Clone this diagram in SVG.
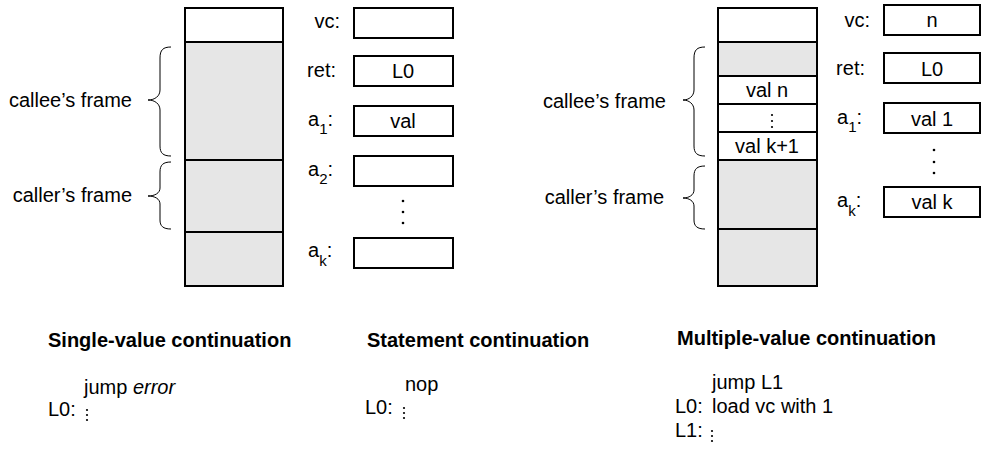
<svg xmlns="http://www.w3.org/2000/svg" width="982" height="449" viewBox="0 0 982 449">
<style>
text { font-family: "Liberation Sans", Arial, sans-serif; font-size: 20px; fill: #000; }
.b { font-weight: bold; }
.c { text-anchor: middle; }
.e { text-anchor: end; }
.sub { font-size: 15px; }
.cell { stroke: #000; stroke-width: 2; }
.g { fill: #e6e6e6; }
.w { fill: #fff; }
.box { fill: #fff; stroke: #000; stroke-width: 2; }
.brace { fill: none; stroke: #000; stroke-width: 1; }
.dot { fill: #000; }
</style>
<rect width="982" height="449" fill="#fff"/>

<!-- Left diagram: stack -->
<g id="left-stack">
  <rect class="cell w" x="185" y="8" width="98" height="34"/>
  <rect class="cell g" x="185" y="42" width="98" height="118"/>
  <rect class="cell g" x="185" y="160" width="98" height="72"/>
  <rect class="cell g" x="185" y="232" width="98" height="54"/>
</g>
<g id="left-braces">
  <path class="brace" d="M171,47 C163,47 160,50 160,58 L160,90 C160,96 155,100 148,100 C155,100 160,104 160,110 L160,146 C160,153 163,156 171,156"/>
  <path class="brace" d="M171,162 C163,162 160,165 160,172 L160,188 C160,193 155,196 148,196 C155,196 160,199 160,204 L160,220 C160,226 163,229 171,229"/>
  <text class="e" x="132" y="107">callee’s frame</text>
  <text class="e" x="132" y="202">caller’s frame</text>
</g>
<g id="left-registers">
  <text class="e" x="340" y="28">vc:</text>
  <rect class="box" x="354" y="8" width="99" height="30"/>
  <text class="e" x="336" y="77">ret:</text>
  <rect class="box" x="354" y="56" width="99" height="30"/>
  <text class="c" x="403" y="78">L0</text>
  <text x="308" y="126">a<tspan class="sub" dy="8">1</tspan><tspan dy="-8">:</tspan></text>
  <rect class="box" x="354" y="106" width="99" height="30"/>
  <text class="c" x="403" y="128">val</text>
  <text x="308" y="176">a<tspan class="sub" dy="8">2</tspan><tspan dy="-8">:</tspan></text>
  <rect class="box" x="354" y="156" width="99" height="30"/>
  <circle class="dot" cx="403" cy="201" r="1.3"/>
  <circle class="dot" cx="403" cy="212" r="1.3"/>
  <circle class="dot" cx="403" cy="223" r="1.3"/>
  <text x="308" y="257">a<tspan class="sub" dy="9">k</tspan><tspan dy="-9">:</tspan></text>
  <rect class="box" x="354" y="238" width="99" height="30"/>
</g>

<!-- Right diagram: stack -->
<g id="right-stack">
  <rect class="cell w" x="718" y="8" width="99" height="34"/>
  <rect class="cell g" x="718" y="42" width="99" height="34"/>
  <rect class="cell w" x="718" y="76" width="99" height="28"/>
  <text class="c" x="767" y="97">val n</text>
  <rect class="cell w" x="718" y="104" width="99" height="28"/>
  <circle class="dot" cx="772" cy="115" r="1.1"/>
  <circle class="dot" cx="772" cy="121" r="1.1"/>
  <circle class="dot" cx="772" cy="127" r="1.1"/>
  <rect class="cell w" x="718" y="132" width="99" height="28"/>
  <text class="c" x="767" y="153">val k+1</text>
  <rect class="cell g" x="718" y="160" width="99" height="69"/>
  <rect class="cell g" x="718" y="229" width="99" height="57"/>
</g>
<g id="right-braces">
  <path class="brace" d="M705,47 C697,47 694,50 694,58 L694,90 C694,96 689,100 683,100 C689,100 694,104 694,110 L694,146 C694,153 697,156 705,156"/>
  <path class="brace" d="M705,166 C697,166 694,169 694,176 L694,190 C694,195 689,198 683,198 C689,198 694,201 694,206 L694,220 C694,226 697,229 705,229"/>
  <text class="e" x="666" y="108">callee’s frame</text>
  <text class="e" x="664" y="204">caller’s frame</text>
</g>
<g id="right-registers">
  <text class="e" x="870" y="27">vc:</text>
  <rect class="box" x="884" y="5" width="96" height="30"/>
  <text class="c" x="932" y="27">n</text>
  <text class="e" x="865" y="75">ret:</text>
  <rect class="box" x="884" y="53" width="96" height="30"/>
  <text class="c" x="932" y="76">L0</text>
  <text x="837" y="124">a<tspan class="sub" dy="8">1</tspan><tspan dy="-8">:</tspan></text>
  <rect class="box" x="884" y="103" width="96" height="30"/>
  <text class="c" x="932" y="126">val 1</text>
  <circle class="dot" cx="934" cy="150" r="1.3"/>
  <circle class="dot" cx="934" cy="162" r="1.3"/>
  <circle class="dot" cx="934" cy="173" r="1.3"/>
  <text x="837" y="207">a<tspan class="sub" dy="9">k</tspan><tspan dy="-9">:</tspan></text>
  <rect class="box" x="884" y="187" width="96" height="30"/>
  <text class="c" x="932" y="209">val k</text>
</g>

<!-- Code listings -->
<g id="single-value">
  <text class="b" x="48" y="347">Single-value continuation</text>
  <text x="84" y="394">jump <tspan font-style="italic">error</tspan></text>
  <text x="48" y="416">L0:</text>
  <circle class="dot" cx="87" cy="410" r="1.1"/>
  <circle class="dot" cx="87" cy="415" r="1.1"/>
  <circle class="dot" cx="87" cy="420" r="1.1"/>
</g>
<g id="statement">
  <text class="b" x="367" y="347">Statement continuation</text>
  <text x="405" y="391">nop</text>
  <text x="365" y="414">L0:</text>
  <circle class="dot" cx="404" cy="408" r="1.1"/>
  <circle class="dot" cx="404" cy="413" r="1.1"/>
  <circle class="dot" cx="404" cy="418" r="1.1"/>
</g>
<g id="multiple-value">
  <text class="b" x="677" y="345">Multiple-value continuation</text>
  <text x="712" y="389">jump L1</text>
  <text x="675" y="413">L0:</text>
  <text x="712" y="413">load vc with 1</text>
  <text x="675" y="437">L1:</text>
  <circle class="dot" cx="712" cy="431" r="1.1"/>
  <circle class="dot" cx="712" cy="436" r="1.1"/>
  <circle class="dot" cx="712" cy="441" r="1.1"/>
</g>
</svg>
